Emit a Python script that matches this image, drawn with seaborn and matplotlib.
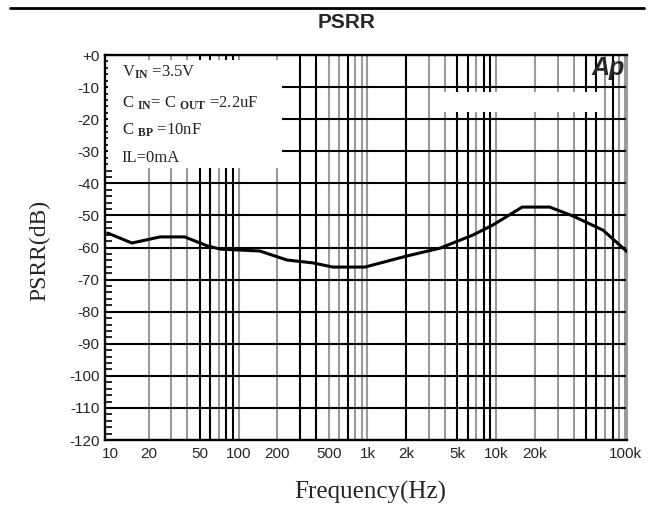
import numpy as np
import pandas as pd
import matplotlib
matplotlib.use("Agg")
import matplotlib.pyplot as plt
from matplotlib.lines import Line2D
from matplotlib.patches import Rectangle
import seaborn as sns

# ---- data ----
freq_hz = [9.6, 14.8, 24.5, 38, 57, 72, 146, 237, 377, 540, 955, 2000, 3660,
           6600, 9400, 15900, 26000, 39500, 67500, 103000]
psrr_db = [-55.5, -58.6, -56.7, -56.7, -59.5, -60.5, -61.1, -63.9, -64.8, -66.1,
           -66.1, -62.7, -60.2, -56.1, -53.0, -47.4, -47.4, -50.2, -54.6, -61.2]

xtick_vals = [10, 20, 50, 100, 200, 500, 1000, 2000, 5000, 10000, 20000, 100000]
xtick_labels = ["10", "20", "50", "100", "200", "500", "1k", "2k", "5k", "10k", "20k", "100k"]
ytick_vals = list(range(0, -121, -10))
ytick_labels = ["+0"] + [str(v) for v in ytick_vals[1:]]

dark_grid = [50, 60, 80, 90, 300, 400, 700, 2000, 5000, 6000, 8000, 9000,
             50000, 60000, 80000]
gray_grid = [20, 30, 40, 70, 100, 200, 500, 600, 800, 900, 1000, 3000, 4000,
             7000, 10000, 20000, 30000, 40000, 70000, 90000, 100000]

notes = [r"V$_{\mathbf{IN}}$ =3.5V",
         r"C $_{\mathbf{IN}}$= C $_{\mathbf{OUT}}$ =2.2uF",
         r"C $_{\mathbf{BP}}$ =10nF",
         r"IL=0mA"]

sns.set_style("white")
plt.rcParams["font.family"] = ["Liberation Sans", "DejaVu Sans"]
plt.rcParams["mathtext.fontset"] = "custom"
plt.rcParams["mathtext.rm"] = "Liberation Serif"
plt.rcParams["mathtext.bf"] = "Liberation Serif:bold"
plt.rcParams["mathtext.it"] = "Liberation Serif:italic"

df = pd.DataFrame({"freq": freq_hz, "psrr": psrr_db})

fig = plt.figure(figsize=(6.54, 5.11), dpi=100)
ax = fig.add_axes([105 / 654, 71 / 511, 522 / 654, 385 / 511])

sns.lineplot(data=df, x="freq", y="psrr", color="black", linewidth=2.2,
             ax=ax, zorder=10)

ax.set_xscale("log")
ax.set_xlim(9.15, 103600)
ax.set_ylim(-120, 0)

# grid
for f in gray_grid:
    ax.axvline(f, color="#9a9a9a", lw=1.5, zorder=1)
for f in dark_grid:
    ax.axvline(f, color="black", lw=1.5, zorder=2)
for v in ytick_vals:
    ax.axhline(v, color="black", lw=1.5, zorder=2)

ax.set_xticks(xtick_vals)
ax.set_xticklabels(xtick_labels)
ax.xaxis.set_minor_locator(matplotlib.ticker.NullLocator())
ax.set_yticks(ytick_vals)
ax.set_yticklabels(ytick_labels)
ax.set_yticks(np.arange(-120, 1, 2), minor=True)
ax.tick_params(axis="x", which="both", length=0, pad=5, labelsize=11)
ax.tick_params(axis="y", which="major", length=0, pad=4, labelsize=11)
ax.tick_params(axis="y", which="minor", direction="in", length=5, width=1.2,
               left=True, color="black")
ax.set_xlabel("")
ax.set_ylabel("")

for s in ["left", "bottom", "top"]:
    ax.spines[s].set_color("black")
    ax.spines[s].set_linewidth(1.7)
ax.spines["right"].set_color("#9a9a9a")
ax.spines["right"].set_linewidth(1.5)

# white boxes over the grid
ax.add_patch(Rectangle((0.006, 0.706), 0.333, 0.281, transform=ax.transAxes,
                       facecolor="white", edgecolor="none", zorder=5))
ax.add_patch(Rectangle((0.623, 0.852), 0.321, 0.052, transform=ax.transAxes,
                       facecolor="white", edgecolor="none", zorder=5))

# annotation text
note_y = [0.955, 0.875, 0.805, 0.733]
for t, yy in zip(notes, note_y):
    ax.text(0.032, yy, t, transform=ax.transAxes, fontsize=12,
            family="Liberation Serif", va="center", ha="left", zorder=6)

ax.text(0.995, 0.998, "Ap", transform=ax.transAxes, ha="right", va="top",
        fontsize=18, fontweight="bold", fontstyle="italic", zorder=6)

# figure texts
fig.text(347 / 654, 1 - 22 / 511, "PSRR", ha="center", va="center",
         fontsize=15, fontweight="bold")
fig.text(40 / 654, 1 - 250 / 511, "PSRR(dB)", rotation=90, ha="center",
         va="center", fontsize=17, family="Liberation Serif")
fig.text(370 / 654, 1 - 492 / 511, "Frequency(Hz)", ha="center", va="center",
         fontsize=18, family="Liberation Serif")
fig.add_artist(Line2D([10 / 654, 644 / 654], [1 - 8 / 511, 1 - 8 / 511],
                      color="black", lw=2, transform=fig.transFigure))

fig.savefig("out.png", dpi=100)
